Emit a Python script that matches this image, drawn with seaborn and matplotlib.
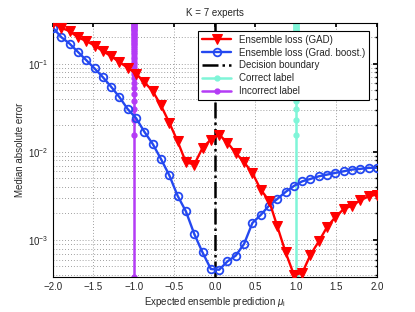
import numpy as np
import pandas as pd
import seaborn as sns
from matplotlib import pyplot as plt

# expected ensemble prediction grid (40 points from -2 to 2)
mu = [-2.000, -1.897, -1.795, -1.692, -1.590, -1.487, -1.385, -1.282, -1.179, -1.077,
      -0.974, -0.872, -0.769, -0.667, -0.564, -0.462, -0.359, -0.256, -0.154, -0.051,
      0.051, 0.154, 0.256, 0.359, 0.462, 0.564, 0.667, 0.769, 0.872, 0.974,
      1.077, 1.179, 1.282, 1.385, 1.487, 1.590, 1.692, 1.795, 1.897, 2.000]

loss_gad = [0.290, 0.256, 0.234, 0.200, 0.181, 0.161, 0.139, 0.122, 0.104, 0.090,
            0.0770, 0.0618, 0.0489, 0.0336, 0.0214, 0.0132, 0.00762, 0.00718, 0.0111, 0.0138,
            0.0157, 0.0127, 0.00974, 0.00762, 0.00577, 0.00373, 0.00280, 0.00143, 0.000723, 0.000403,
            0.000422, 0.000680, 0.000964, 0.00141, 0.00182, 0.00225, 0.00245, 0.00282, 0.00313, 0.00328]

loss_gb = [0.256, 0.200, 0.169, 0.136, 0.110, 0.0885, 0.0705, 0.0548, 0.0417, 0.0305,
           0.0241, 0.0169, 0.0123, 0.0083, 0.00542, 0.00318, 0.00211, 0.00117, 0.000723, 0.000468,
           0.000459, 0.000571, 0.000664, 0.000902, 0.00156, 0.00192, 0.00245, 0.00292, 0.00351, 0.00410,
           0.00463, 0.00493, 0.00528, 0.00552, 0.00577, 0.00602, 0.00629, 0.00641, 0.00658, 0.00660]

# marker heights along the label lines
label_y = [0.00038, 0.0157, 0.0232, 0.0307, 0.0382, 0.0457, 0.0532, 0.0607, 0.0682, 0.0757,
           0.0832, 0.0907, 0.0982, 0.1057, 0.1132, 0.1207, 0.1282, 0.1357, 0.1432, 0.1507,
           0.1582, 0.1657, 0.1732, 0.1807, 0.1882, 0.1957, 0.2032, 0.2107, 0.2182, 0.2257,
           0.2332, 0.2407, 0.2482, 0.2557, 0.2632, 0.2707, 0.2782, 0.2857, 0.2900]
boundary_x = 0.0
correct_x = 1.0
incorrect_x = -1.0

sns.set_theme(style="white")
plt.rcParams["font.family"] = ["Liberation Sans", "DejaVu Sans"]
plt.rcParams["mathtext.fontset"] = "custom"
plt.rcParams["mathtext.rm"] = "Liberation Sans"
plt.rcParams["mathtext.it"] = "Liberation Sans:italic"

df = pd.DataFrame({"mu": mu, "gad": loss_gad, "gb": loss_gb})

fig = plt.figure(figsize=(4.15, 3.12), dpi=100)
ax = fig.add_axes([0.1277, 0.1122, 0.7807, 0.8141])
ax.set_yscale("log")

sns.lineplot(data=df, x="mu", y="gad", ax=ax, color="#ff0000", lw=1.7,
             marker="v", markersize=7, markeredgecolor="#ff0000",
             label="Ensemble loss (GAD)", zorder=4)
sns.lineplot(data=df, x="mu", y="gb", ax=ax, color="#2448f0", lw=1.7,
             marker="o", markersize=5.5, markerfacecolor="none",
             markeredgecolor="#2448f0", markeredgewidth=1.3,
             label="Ensemble loss (Grad. boost.)", zorder=3)
ax.plot([boundary_x, boundary_x], [label_y[0], label_y[-1]], color="black",
        ls="-.", lw=1.8, label="Decision boundary", zorder=2)
ax.plot([correct_x] * len(label_y), label_y, color="#7ff5d8", lw=1.8,
        marker="o", markersize=3.5, label="Correct label", zorder=2)
ax.plot([incorrect_x] * len(label_y), label_y, color="#b43cf5", lw=1.8,
        marker="o", markersize=3.5, label="Incorrect label", zorder=2)

ax.set_xlim(-2, 2)
ax.set_ylim(3.8e-4, 0.29)
ax.set_xticks([-2, -1.5, -1, -0.5, 0, 0.5, 1, 1.5, 2])

ax.grid(True, which="major", axis="both", ls=(0, (1, 2.5)), color="0.5", lw=0.6)
ax.grid(True, which="minor", axis="y", ls=(0, (1, 2.5)), color="0.5", lw=0.6)
ax.tick_params(which="both", direction="in", top=True, right=True,
               labelsize=7, length=3, color="black")
ax.tick_params(which="minor", length=1.8)
for s in ax.spines.values():
    s.set_color("black")
    s.set_linewidth(0.8)

ax.set_title("K = 7 experts", fontsize=7, pad=5)
ax.set_xlabel(r"Expected ensemble prediction $\mu_\mathrm{i}$", fontsize=7, labelpad=2)
ax.set_ylabel("Median absolute error", fontsize=7, labelpad=2)

leg = ax.legend(loc="upper right", fontsize=7, handlelength=3.0, borderaxespad=0.8,
                labelspacing=0.3, borderpad=0.4, fancybox=False, framealpha=1)
leg.get_frame().set_edgecolor("black")
leg.get_frame().set_linewidth(0.8)

fig.savefig("out.png", dpi=100)
